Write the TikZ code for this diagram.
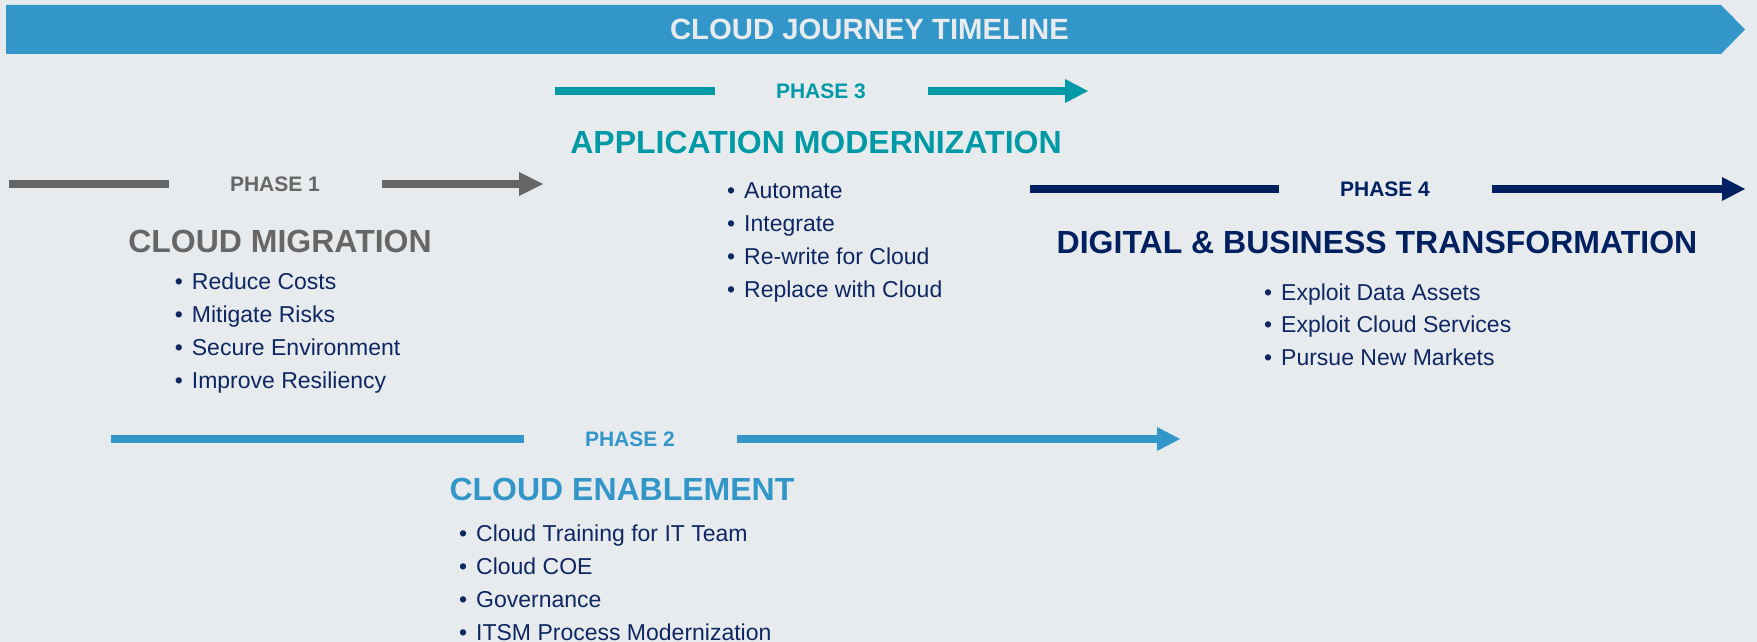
\documentclass[tikz,border=0pt]{standalone}
\usepackage{fontspec}
\setmainfont{Liberation Sans}
\definecolor{bg}{HTML}{E7EBEE}
\definecolor{banner}{HTML}{3396C8}
\definecolor{pgray}{HTML}{666666}
\definecolor{pteal}{HTML}{009AA6}
\definecolor{pnavy}{HTML}{002060}
\definecolor{btext}{HTML}{0E2762}
\newcommand\phaseline[7]{%
  \fill[#1] (#3,#2-4) rectangle (#4,#2+4);
  \fill[#1] (#5,#2-4) rectangle (#6,#2+4);
  \fill[#1] (#6,#2-12) -- (#7,#2) -- (#6,#2+12) -- cycle;
}
\begin{document}
\begin{tikzpicture}[x=1pt,y=-1pt,
  lbl/.style={inner sep=0, anchor=base},
  phase/.style={lbl, font=\bfseries\fontsize{21}{21}\selectfont},
  head/.style={lbl, font=\bfseries\fontsize{32}{32}\selectfont},
  item/.style={inner sep=0, anchor=base west, text=btext, font=\fontsize{23}{23}\selectfont},
]
\useasboundingbox (0,0) rectangle (1757,642);
\fill[bg] (0,0) rectangle (1757,642);
% banner
\fill[banner] (6,5) -- (1721,5) -- (1745,29.5) -- (1721,54) -- (6,54) -- cycle;
\node[lbl, text=bg, font=\bfseries\fontsize{29.3}{29}\selectfont] (title) at (869.5,39.3) {CLOUD JOURNEY TIMELINE};
% phase 1
\phaseline{pgray}{184}{9}{169}{382}{519}{543}
\node[phase, text=pgray] (p1) at (275,191.7) {PHASE 1};
\node[head, text=pgray] (h1) at (280,252) {CLOUD MIGRATION};
\foreach \t [count=\i] in {Reduce Costs,Mitigate Risks,Secure Environment,Improve Resiliency}
  \node[item] (m\i) at (174.7,289.3+\i*33-33) {\makebox[17pt][l]{•}\t};
% phase 3
\phaseline{pteal}{91}{555}{715}{928}{1065}{1088}
\node[phase, text=pteal] (p3) at (821,98.3) {PHASE 3};
\node[head, text=pteal] (h3) at (816,153) {APPLICATION MODERNIZATION};
\foreach \t [count=\i] in {Automate,Integrate,Re-write for Cloud,Replace with Cloud}
  \node[item] (a\i) at (727,198.3+\i*33-33) {\makebox[17pt][l]{•}\t};
% phase 4
\phaseline{pnavy}{189}{1030}{1279}{1492}{1722}{1745}
\node[phase, text=pnavy] (p4) at (1385,196) {PHASE 4};
\node[head, text=pnavy] (h4) at (1377,253) {DIGITAL \& BUSINESS TRANSFORMATION};
\foreach \t [count=\i] in {Exploit Data Assets,Exploit Cloud Services,Pursue New Markets}
  \node[item] (d\i) at (1264,300+\i*32.6-32.6) {\makebox[17pt][l]{•}\t};
% phase 2
\phaseline{banner}{439}{111}{524}{737}{1157}{1180}
\node[phase, text=banner] (p2) at (630,446.7) {PHASE 2};
\node[head, text=banner] (h2) at (622,500) {CLOUD ENABLEMENT};
\foreach \t [count=\i] in {Cloud Training for IT Team,Cloud COE,Governance,ITSM Process Modernization}
  \node[item] (e\i) at (459,541+\i*33-33) {\makebox[17pt][l]{•}\t};
\end{tikzpicture}
\end{document}
